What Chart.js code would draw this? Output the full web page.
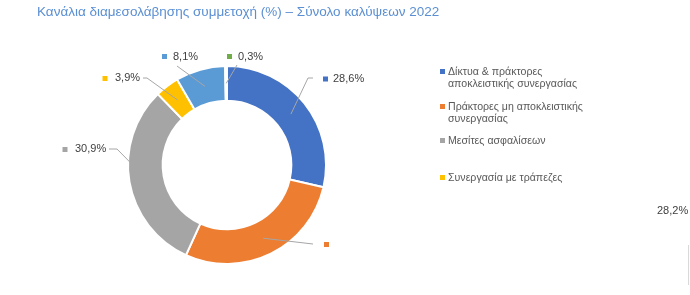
<!DOCTYPE html>
<html>
<head>
<meta charset="utf-8">
<script src="https://cdn.jsdelivr.net/npm/chart.js@4/dist/chart.umd.min.js"></script>
<style>
  body { margin: 0; background: #fff; }
</style>
</head>
<body>
<canvas id="channels" width="690" height="295"></canvas>
<script>
// κατηγορίες (μόνο οι 4 πρώτες φαίνονται στο υπόμνημα)
const categories = [
  ["Δίκτυα & πράκτορες", "αποκλειστικής συνεργασίας"],
  ["Πράκτορες μη αποκλειστικής", "συνεργασίας"],
  ["Μεσίτες ασφαλίσεων"],
  ["Συνεργασία με τράπεζες"],
  ["Λοιπά"],
  ["Άλλα"]
];
const shares = [28.6, 28.2, 30.9, 3.9, 8.1, 0.3]; // συμμετοχή %
const colors = ["#4472C4", "#ED7D31", "#A5A5A5", "#FFC000", "#5B9BD5", "#70AD47"];
const legendCount = 4;

const titleText = "Κανάλια διαμεσολάβησης συμμετοχή (%) – Σύνολο καλύψεων 2022";

// θέσεις ετικετών: τετράγωνο, κείμενο, σημεία γραμμής
const labelSpots = [
  { m: [325.5, 79], t: [333, 79], lead: [[313, 78], [308, 78]] },
  { m: [326.5, 244.5], t: [657, 211], lead: [[313, 244]] },
  { m: [65, 149.5], t: [75, 149], lead: [[109, 149], [117, 149]] },
  { m: [105, 78.5], t: [115, 78], lead: [[143, 78], [147, 78]] },
  { m: [164.5, 56.5], t: [173, 57], lead: [[177, 66]] },
  { m: [229.5, 56.5], t: [238, 57], lead: [[237, 65]] }
];
const legendY = [72, 107, 141, 178];

const fmt = v => v.toFixed(1).replace(".", ",") + "%";

const decor = {
  id: "decor",
  afterDraw(chart) {
    const ctx = chart.ctx;
    ctx.save();
    // τίτλος
    ctx.font = "13.5px 'Liberation Sans', Arial, sans-serif";
    ctx.fillStyle = "#5B8FD3";
    ctx.textBaseline = "middle";
    ctx.textAlign = "left";
    ctx.fillText(titleText, 37, 12);

    // ετικέτες με γραμμές
    const arcs = chart.getDatasetMeta(0).data;
    arcs.forEach((arc, i) => {
      const s = labelSpots[i];
      const c = arc.tooltipPosition();
      ctx.strokeStyle = "#A6A6A6";
      ctx.lineWidth = 1;
      ctx.beginPath();
      ctx.moveTo(s.lead[0][0], s.lead[0][1]);
      s.lead.slice(1).forEach(p => ctx.lineTo(p[0], p[1]));
      ctx.lineTo(c.x, c.y);
      ctx.stroke();
      ctx.fillStyle = colors[i];
      ctx.fillRect(s.m[0] - 2.5, s.m[1] - 2.5, 5, 5);
      ctx.fillStyle = "#404040";
      ctx.font = "11px 'Liberation Sans', Arial, sans-serif";
      ctx.fillText(fmt(shares[i]), s.t[0], s.t[1]);
    });

    // υπόμνημα
    ctx.font = "10.6px 'Liberation Sans', Arial, sans-serif";
    for (let i = 0; i < legendCount; i++) {
      const y = legendY[i];
      ctx.fillStyle = colors[i];
      ctx.fillRect(440, y - 3, 5, 5);
      ctx.fillStyle = "#595959";
      categories[i].forEach((line, k) => ctx.fillText(line, 448, y + k * 12.5));
    }

    // λεπτή γραμμή δεξιά
    ctx.strokeStyle = "#D9D9D9";
    ctx.beginPath();
    ctx.moveTo(688.5, 245);
    ctx.lineTo(688.5, 285);
    ctx.stroke();
    ctx.restore();
  }
};

new Chart(document.getElementById("channels"), {
  type: "doughnut",
  data: {
    labels: categories,
    datasets: [{
      data: shares,
      backgroundColor: colors,
      borderColor: "#ffffff",
      borderWidth: 2,
      hoverOffset: 0
    }]
  },
  options: {
    responsive: false,
    animation: false,
    cutout: "65%",
    layout: { padding: { left: 127, right: 363, top: 65, bottom: 30 } },
    plugins: {
      legend: { display: false },
      title: { display: false },
      tooltip: { enabled: false }
    }
  },
  plugins: [decor]
});
</script>
</body>
</html>
